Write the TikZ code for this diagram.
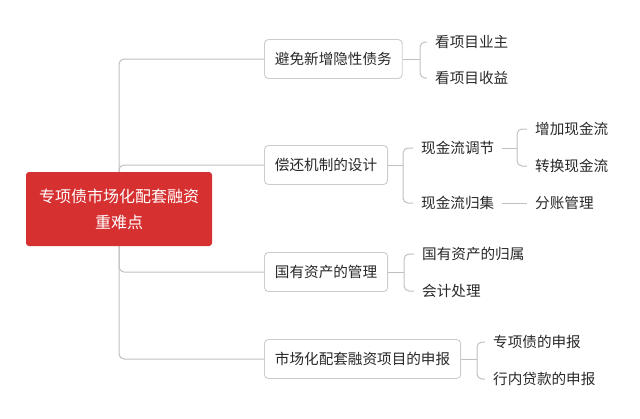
\documentclass[tikz,border=0pt]{standalone}
\usepackage{fontspec}
\setmainfont{Noto Sans CJK SC}
\pgfdeclarelayer{bg}
\pgfsetlayers{bg,main}
\definecolor{rootred}{RGB}{214,48,49}
\definecolor{linegray}{RGB}{192,192,192}
\definecolor{boxgray}{RGB}{204,204,204}
\definecolor{txt}{RGB}{40,40,40}
\tikzset{
  rootbox/.style={fill=rootred, rounded corners=3pt, text=white, align=center,
    font=\fontsize{16}{26}\selectfont, minimum width=186pt, minimum height=74pt, inner sep=0pt},
  topic/.style={draw=boxgray, line width=0.9pt, rounded corners=4pt, fill=white, text=txt,
    font=\fontsize{14.6}{17}\selectfont, minimum height=39pt, inner xsep=10.5pt, inner ysep=0pt, anchor=west},
  leaf/.style={text=txt, font=\fontsize{14.6}{17}\selectfont, inner xsep=8pt, inner ysep=2pt, anchor=west},
  link/.style={draw=linegray, line width=1pt, rounded corners=5pt},
}
\begin{document}
\begin{tikzpicture}[x=1pt,y=-1pt]
\useasboundingbox (0,0) rectangle (640,418);
\node[rootbox] (root) at (119,209) {专项债市场化配套融资\\重难点};
\node[topic] (t1) at (264,59) {避免新增隐性债务};
\node[topic] (t2) at (264,165) {偿还机制的设计};
\node[topic] (t3) at (264,272) {国有资产的管理};
\node[topic] (t4) at (264,359) {市场化配套融资项目的申报};
\node[leaf] (a1) at (427,42) {看项目业主};
\node[leaf] (a2) at (427,78) {看项目收益};
\node[leaf] (b1) at (413,148) {现金流调节};
\node[leaf] (b2) at (413,203) {现金流归集};
\node[leaf] (b11) at (527,129) {增加现金流};
\node[leaf] (b12) at (527,166) {转换现金流};
\node[leaf] (b21) at (527,203) {分账管理};
\node[leaf] (c1) at (414,254) {国有资产的归属};
\node[leaf] (c2) at (414,291) {会计处理};
\node[leaf] (d1) at (485,342) {专项债的申报};
\node[leaf] (d2) at (485,379) {行内贷款的申报};
\coordinate (ja) at (420,59);
\coordinate (jb) at (403,165);
\coordinate (jb1) at (517,148);
\coordinate (jc) at (404,272);
\coordinate (jd) at (477,359);
\begin{pgfonlayer}{bg}
\draw[link] (root.center) |- (t1.west);
\draw[link] (root.center) |- (t2.west);
\draw[link] (root.center) |- (t3.west);
\draw[link] (root.center) |- (t4.west);
\draw[link] (t1.east) -- (ja);
\draw[link] (ja) |- (a1.west);
\draw[link] (ja) |- (a2.west);
\draw[link] (t2.east) -- (jb);
\draw[link] (jb) |- (b1.west);
\draw[link] (jb) |- (b2.west);
\draw[link] (b1.east) -- (jb1);
\draw[link] (jb1) |- (b11.west);
\draw[link] (jb1) |- (b12.west);
\draw[link] (b2.east) -- (b21.west);
\draw[link] (t3.east) -- (jc);
\draw[link] (jc) |- (c1.west);
\draw[link] (jc) |- (c2.west);
\draw[link] (t4.east) -- (jd);
\draw[link] (jd) |- (d1.west);
\draw[link] (jd) |- (d2.west);
\end{pgfonlayer}
\end{tikzpicture}
\end{document}
